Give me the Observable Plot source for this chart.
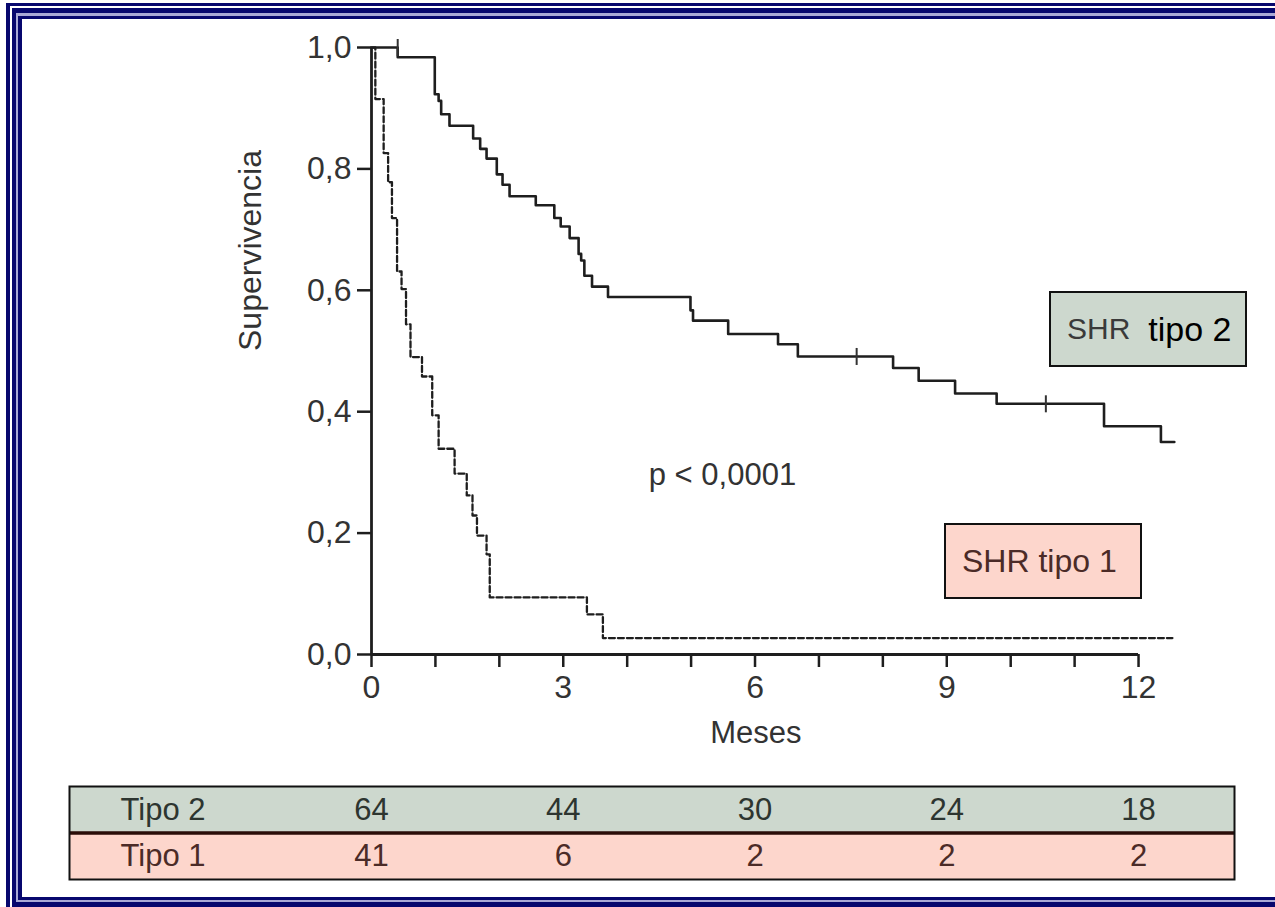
<!DOCTYPE html>
<html>
<head>
<meta charset="utf-8">
<script src="https://cdn.jsdelivr.net/npm/d3@7"></script>
<script src="https://cdn.jsdelivr.net/npm/@observablehq/plot@0.6"></script>
<style>
html, body { margin: 0; padding: 0; background: #fff; }
#page { position: relative; width: 1275px; height: 907px; overflow: hidden; background: #fff; font-family: "Liberation Sans", Arial, sans-serif; }
#chart, #table { position: absolute; left: 0; }
#chart { top: 0; }
#table { top: 783px; }
.bar { position: absolute; background: #07076e; z-index: 5; }
.lav { position: absolute; background: #a9a9d6; z-index: 4; }
.legend { position: absolute; box-sizing: border-box; border: 2px solid #111; display: flex; align-items: center; z-index: 3; white-space: nowrap; }
</style>
</head>
<body>
<div id="page">
  <div id="chart"></div>
  <div id="table"></div>
  <div class="legend" style="left:1049px;top:291px;width:198px;height:76px;background:#cdd8ce;padding-left:16px;">
    <span style="color:#3a3a3a;font-size:30px;">SHR</span><span style="color:#000;font-size:34px;margin-left:18px;">tipo 2</span>
  </div>
  <div class="legend" style="left:944px;top:523px;width:198px;height:76px;background:#fdd6cc;padding-left:16px;">
    <span style="color:#4b2b27;font-size:32px;">SHR tipo 1</span>
  </div>
  <!-- triple navy frame -->
  <div class="bar" style="left:6px;top:3px;width:4px;height:910px;"></div>
  <div class="bar" style="left:6px;top:3px;width:1280px;height:3px;"></div>
  <div class="bar" style="left:12px;top:8px;width:4px;height:900px;"></div>
  <div class="bar" style="left:12px;top:8px;width:1280px;height:5px;"></div>
  <div class="bar" style="left:12px;top:902px;width:1280px;height:6px;"></div>
  <div class="lav" style="left:16px;top:13px;width:2px;height:890px;"></div>
  <div class="lav" style="left:16px;top:13px;width:1270px;height:3px;"></div>
  <div class="lav" style="left:16px;top:900px;width:1270px;height:2px;"></div>
  <div class="bar" style="left:18px;top:16px;width:4px;height:884px;"></div>
  <div class="bar" style="left:18px;top:16px;width:1270px;height:3px;"></div>
  <div class="bar" style="left:18px;top:897px;width:1270px;height:3px;"></div>
</div>
<script>
// ---- data ----
const tipo2Time = [0.41, 0.99, 1.05, 1.09, 1.22, 1.59, 1.70, 1.80, 1.96, 2.05, 2.16, 2.57, 2.86, 2.96, 3.10, 3.24, 3.28, 3.33, 3.45, 3.70, 4.99, 5.03, 5.58, 6.36, 6.67, 8.16, 8.56, 9.13, 9.78, 11.46, 12.35];
const tipo2Surv = [0.984, 0.923, 0.912, 0.890, 0.871, 0.850, 0.833, 0.817, 0.791, 0.774, 0.755, 0.740, 0.719, 0.705, 0.686, 0.660, 0.649, 0.624, 0.606, 0.589, 0.567, 0.550, 0.528, 0.511, 0.491, 0.472, 0.451, 0.430, 0.413, 0.376, 0.350];
const tipo2End = 12.56;
const tipo2CensorTime = [0.41, 7.59, 10.55];
const tipo2CensorSurv = [1.0, 0.491, 0.413];

const tipo1Time = [0.06, 0.19, 0.26, 0.32, 0.40, 0.47, 0.54, 0.61, 0.79, 0.95, 1.05, 1.30, 1.49, 1.58, 1.65, 1.80, 1.85, 3.37, 3.62];
const tipo1Surv = [0.915, 0.826, 0.778, 0.719, 0.631, 0.602, 0.544, 0.490, 0.458, 0.394, 0.339, 0.298, 0.262, 0.229, 0.196, 0.165, 0.094, 0.066, 0.027];
const tipo1End = 12.53;

const yTicks = [0, 0.2, 0.4, 0.6, 0.8, 1.0];
const xTicks = [0,1,2,3,4,5,6,7,8,9,10,11,12];
const xLabelled = [0, 3, 6, 9, 12];

const riskMonths = [0, 3, 6, 9, 12];
const riskTipo2 = [64, 44, 30, 24, 18];
const riskTipo1 = [41, 6, 2, 2, 2];
const rowNames = ["Tipo 2", "Tipo 1"];

const annotations = [{x: 5.49, y: 0.295, text: "p < 0,0001"}];

// ---- build tables ----
function curve(times, surv, end) {
  const pts = [{t: 0, s: 1}];
  times.forEach((t, i) => pts.push({t, s: surv[i]}));
  pts.push({t: end, s: surv[surv.length - 1]});
  return pts;
}
const line2 = curve(tipo2Time, tipo2Surv, tipo2End);
const line1 = curve(tipo1Time, tipo1Surv, tipo1End);
const censors = tipo2CensorTime.map((t, i) => ({t, s: tipo2CensorSurv[i]}));

const vbar = {draw(ctx, size) { const h = Math.sqrt(size); ctx.moveTo(0, -h / 2); ctx.lineTo(0, h / 2); }};

const W = 1275;
const xDomain = [0, 12.56];
const x0 = 371, pxPerMonth = 63.92;
const xRangeEnd = x0 + xDomain[1] * pxPerMonth;
const fmtY = d => d.toFixed(1).replace(".", ",");
const ink = "#1e1e1e";
const txt = "#333";

const chart = Plot.plot({
  width: W,
  height: 760,
  marginLeft: x0,
  marginRight: W - xRangeEnd,
  marginTop: 47,
  marginBottom: 106,
  style: {fontFamily: "'Liberation Sans', Arial, sans-serif", fontSize: "32px", background: "transparent", color: txt},
  x: {domain: xDomain},
  y: {domain: [0, 1]},
  marks: [
    Plot.axisY({ticks: yTicks, tickSize: 14, tickPadding: 6, tickFormat: fmtY, label: null, fontSize: 32, strokeWidth: 2.5, stroke: ink, fill: txt}),
    Plot.axisX({ticks: xTicks, tickSize: 13, tickPadding: 8, tickFormat: d => xLabelled.includes(d) ? String(d) : "", label: null, fontSize: 32, strokeWidth: 2.5, stroke: ink, fill: txt}),
    Plot.ruleX([0], {y1: 0, y2: 1, stroke: ink, strokeWidth: 2.8}),
    Plot.ruleY([0], {x1: 0, x2: 12, stroke: ink, strokeWidth: 2.8}),
    Plot.line(line1, {x: "t", y: "s", curve: "step-after", stroke: ink, strokeWidth: 2.3, strokeDasharray: "6,3"}),
    Plot.line(line2, {x: "t", y: "s", curve: "step-after", stroke: ink, strokeWidth: 2.6}),
    Plot.dot(censors, {x: "t", y: "s", symbol: vbar, r: 9.6, stroke: "#333", strokeWidth: 2}),
    Plot.text(annotations, {x: "x", y: "y", text: "text", fontSize: 31, fill: txt}),
    Plot.text(["Supervivencia"], {frameAnchor: "left", dx: -121, rotate: -90, fontSize: 32, fill: txt}),
    Plot.text(["Meses"], {frameAnchor: "bottom", dx: -17, dy: 88, fontSize: 31, fill: txt})
  ]
});
document.getElementById("chart").appendChild(chart);

// ---- at-risk table ----
const rows = rowNames.map((name, i) => ({name, r0: i, r1: i + 1, mid: i + 0.5}));
const risk2 = riskMonths.map((t, i) => ({t, n: riskTipo2[i], mid: 0.5}));
const risk1 = riskMonths.map((t, i) => ({t, n: riskTipo1[i], mid: 1.5}));

const table = Plot.plot({
  width: W,
  height: 100,
  marginTop: 3,
  marginBottom: 4,
  marginLeft: 69,
  marginRight: W - 1234,
  style: {fontFamily: "'Liberation Sans', Arial, sans-serif", fontSize: "31px", background: "transparent"},
  x: {domain: xDomain, range: [x0, xRangeEnd], axis: null},
  y: {domain: [0, 2], range: [3, 96], axis: null},
  marks: [
    Plot.rect(rows.filter(d => d.name === "Tipo 2"), {y1: "r0", y2: "r1", fill: "#cdd8ce"}),
    Plot.rect(rows.filter(d => d.name === "Tipo 1"), {y1: "r0", y2: "r1", fill: "#fdd6cc"}),
    Plot.ruleY([1], {stroke: "#2a0d08", strokeWidth: 3.5}),
    Plot.frame({stroke: "#111", strokeWidth: 2}),
    Plot.text(rows.filter(d => d.name === "Tipo 2"), {y: "mid", text: "name", frameAnchor: "left", textAnchor: "start", dx: 51, fontSize: 31, fill: "#2d3530"}),
    Plot.text(rows.filter(d => d.name === "Tipo 1"), {y: "mid", text: "name", frameAnchor: "left", textAnchor: "start", dx: 51, fontSize: 31, fill: "#4b2b27"}),
    Plot.text(risk2, {x: "t", y: "mid", text: "n", fontSize: 31, fill: "#2d3530"}),
    Plot.text(risk1, {x: "t", y: "mid", text: "n", fontSize: 31, fill: "#4b2b27"})
  ]
});
document.getElementById("table").appendChild(table);
</script>
</body>
</html>
